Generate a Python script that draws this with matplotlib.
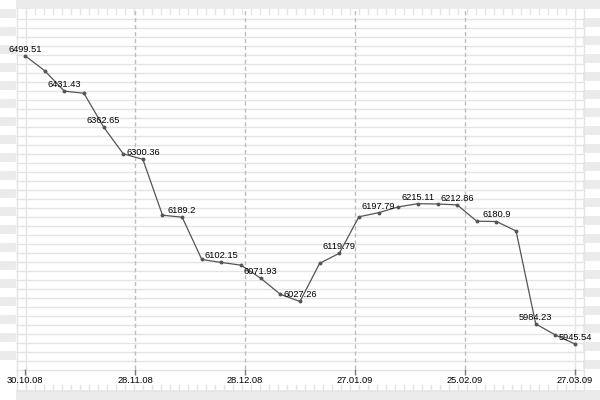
import numpy as np
import matplotlib
matplotlib.use("Agg")
import matplotlib.pyplot as plt
from matplotlib.patches import Rectangle

# ---- data ----
values = [6499.51, 6470.7, 6431.43, 6427.3, 6362.65, 6311.0, 6300.36, 6193.0,
          6189.2, 6108.0, 6102.15, 6097.0, 6071.93, 6041.0, 6027.26, 6100.6,
          6119.79, 6190.0, 6197.79, 6209.0, 6215.11, 6214.5, 6212.86, 6181.5,
          6180.9, 6162.7, 5984.23, 5962.8, 5945.54]
date_labels = ["30.10.08", "28.11.08", "28.12.08", "27.01.09", "25.02.09", "27.03.09"]

x = np.arange(len(values))
tick_pos = np.linspace(0, len(values) - 1, len(date_labels))

BAND = "#ebebeb"
GRID = "#e4e4e4"
FONT = "Liberation Sans"
FS = 6.7

fig = plt.figure(figsize=(6, 4), dpi=100)
fig.patch.set_facecolor("white")

# ---- background decoration (pixel coordinates) ----
bg = fig.add_axes([0, 0, 1, 1])
bg.set_xlim(0, 600)
bg.set_ylim(400, 0)
bg.axis("off")

bg.add_patch(Rectangle((16, 0), 584, 9, color=BAND, lw=0))
bg.add_patch(Rectangle((16, 390), 584, 10, color=BAND, lw=0))
for y0 in range(9, 360, 18):
    bg.add_patch(Rectangle((0, y0), 16, 9, color=BAND, lw=0))
for y0 in range(18, 369, 18):
    bg.add_patch(Rectangle((583, y0), 17, 9, color=BAND, lw=0))

for yy in range(18, 370, 9):
    bg.plot([16, 583], [yy + 0.5, yy + 0.5], color=GRID, lw=1)
bg.plot([16, 583], [390.5, 390.5], color=GRID, lw=1)
for xx in (16, 25, 574, 583):
    bg.plot([xx + 0.5, xx + 0.5], [9, 390], color=GRID, lw=1)
for xx in range(25, 570, 9):
    bg.plot([xx + 0.5, xx + 0.5], [9, 14], color=GRID, lw=1)
    bg.plot([xx + 0.5, xx + 0.5], [385, 390], color=GRID, lw=1)

# ---- data axes ----
ax = fig.add_axes([16 / 600, 31 / 400, 567 / 600, 360 / 400])
ax.patch.set_alpha(0)
ax.set_xlim(-0.458, 28.407)
ax.set_ylim(5897.5, 6589.2)
for s in ax.spines.values():
    s.set_visible(False)

for tp in tick_pos[1:-1]:
    ax.axvline(tp, color="#bdbdbd", lw=1, ls=(0, (3, 2)), zorder=1)

ax.plot(x, values, color="#555555", lw=0.9, marker="o", ms=1.8, zorder=3)

for i in range(0, len(values), 2):
    ax.annotate(str(values[i]), (x[i], values[i]), xytext=(0, 3),
                textcoords="offset points", ha="center", va="baseline",
                fontsize=FS, family=FONT, color="black", zorder=4)

ax.set_yticks([])
ax.set_xticks(tick_pos)
ax.set_xticklabels(date_labels, family=FONT, fontsize=FS)
ax.tick_params(axis="x", direction="out", length=4.3, width=1, color="#777777", pad=1)

fig.savefig("out.png", dpi=100)
